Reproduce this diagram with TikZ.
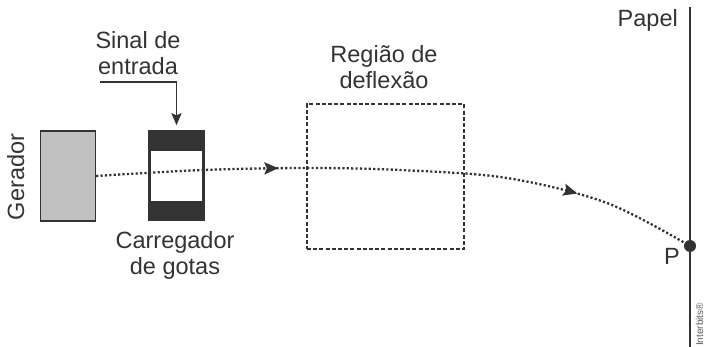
\documentclass[tikz,border=0pt]{standalone}
\usepackage{fontspec}
\setmainfont{Liberation Sans}
\usetikzlibrary{arrows.meta,decorations.markings}
\definecolor{tinta}{HTML}{333333}
\definecolor{cinza}{HTML}{C0C0C0}

\begin{document}
\begin{tikzpicture}[x = 1pt, y = -1pt,
        texto/.style = {text = tinta, font = \fontsize{23.5}{26}\selectfont, inner sep = 0pt, align = center},
        caixa/.style = {draw = tinta, inner sep = 0pt},
        ponta/.tip = {Stealth[length = 14pt, width = 12pt, inset = 2.5pt]},
        trajeto/.style = {draw = tinta, line width = 2.3pt, dash pattern = on 2.2pt off 2.2pt,
            postaction = {decorate},
            decoration = {markings,
                mark = at position 0.30 with {\arrow{ponta}},
                mark = at position 0.795 with {\arrow{ponta}}}}]
        \useasboundingbox (0,0) rectangle (704,347);

        \node (gerador)[caixa, fill = cinza, line width = 1.2pt, minimum width = 55pt,
        minimum height = 90pt] at (68,176) {};
        \node (carregador)[caixa, fill = tinta, minimum width = 56pt,
        minimum height = 90pt] at (176.5,175.5) {};
        \node (janela)[fill = white, inner sep = 0pt, minimum width = 51pt,
        minimum height = 50pt] at (176.5,176) {};
        \node (regiao)[caixa, line width = 1.4pt, dash pattern = on 4pt off 2.2pt,
        minimum width = 157pt, minimum height = 145pt] at (385.5,176.5) {};

        \node (gerador_txt)[texto, rotate = 90, anchor = base] at (24,177) {Gerador};
        \node (sinal_txt)[texto, anchor = north] at (138,31) {Sinal de\\entrada};
        \node (carregador_txt)[texto, anchor = north] at (175,231) {Carregador\\de gotas};
        \node (regiao_txt)[texto, anchor = north] at (384,45) {Região de\\deflexão};
        \node (papel_txt)[texto, anchor = base east] at (678,27) {Papel};
        \node (p_txt)[texto, anchor = base] at (672,265) {P};
        \node (marca)[text = tinta!80, font = \fontsize{10}{10}\selectfont, inner sep = 0pt,
        rotate = 90, anchor = base west] at (703,346) {Interbits®};

        % sinal de entrada
        \coordinate (sinal) at (100,82);
        \draw[tinta, line width = 1.8pt, -{Stealth[length = 12pt, width = 10pt, inset = 2pt]},
        shorten >= 5pt] (sinal) -| (carregador.north);

        % papel
        \coordinate (papel_topo) at (690,7);
        \coordinate (papel_base) at (690,347);
        \draw[tinta, line width = 2.2pt] (papel_topo) -- (papel_base);

        % trajetoria da gota
        \coordinate (p) at (690,246);
        \draw[trajeto] plot[smooth, tension = 0.55] coordinates {(gerador.east) (203,170)
        (307,168) (400,170) (507,178) (607,203) (p)};
        \node (ponto)[circle, fill = tinta, inner sep = 0pt, minimum size = 12pt] at (p) {};
\end{tikzpicture}
\end{document}
